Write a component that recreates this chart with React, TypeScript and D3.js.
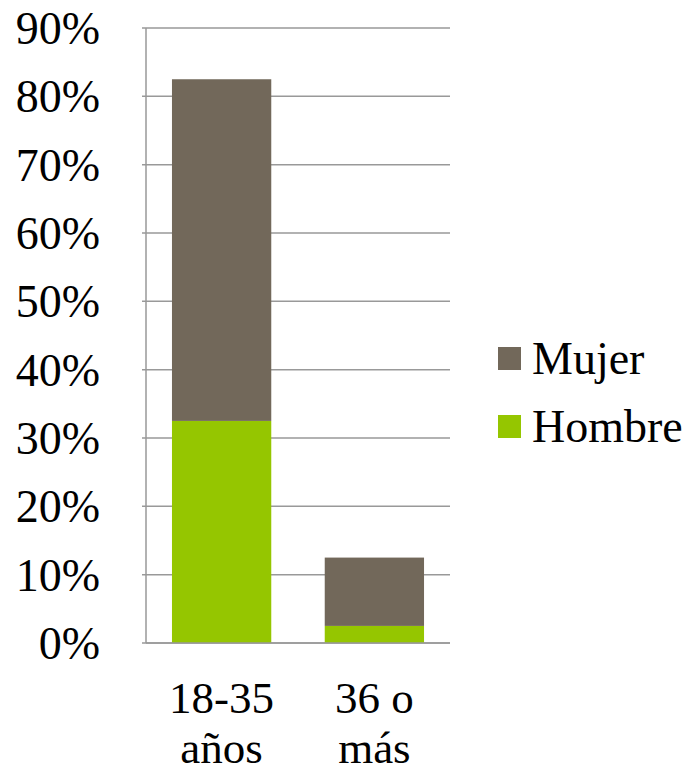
import React, { useEffect, useRef } from 'react';
import * as d3 from 'd3';

const categories = [['18-35', 'años'], ['36 o', 'más']];
const hombre = [32.5, 2.5];
const mujer = [50, 10];
const seriesNames = ['Mujer', 'Hombre'];
const seriesColors = ['#72685a', '#95c600'];
const yTicks = [0, 10, 20, 30, 40, 50, 60, 70, 80, 90];

export default function App() {
    const ref = useRef<SVGSVGElement>(null);

    useEffect(() => {
        const svg = d3.select(ref.current);
        svg.selectAll('*').remove();
        const font = 'Liberation Serif, serif';

        const left = 146, right = 450, top = 28, bottom = 643;

        const yScale = d3.scaleLinear().domain([0, 90]).range([bottom, top]);
        const xScale = d3.scaleBand()
            .domain(categories.map((c, i) => String(i)))
            .range([left, right])
            .paddingInner(0.35)
            .paddingOuter(0.17);

        // grid lines
        svg.append('g')
            .selectAll('line')
            .data(yTicks)
            .enter()
            .append('line')
            .attr('x1', left - 4)
            .attr('x2', right)
            .attr('y1', d => yScale(d))
            .attr('y2', d => yScale(d))
            .attr('stroke', '#999')
            .attr('stroke-width', 1.5);

        // y axis line
        svg.append('line')
            .attr('x1', left).attr('x2', left)
            .attr('y1', top).attr('y2', bottom)
            .attr('stroke', '#999')
            .attr('stroke-width', 1.5);

        const labels = svg.append('g')
            .attr('font-family', font)
            .attr('font-size', 46)
            .attr('fill', '#000');

        // y labels
        labels.selectAll('text.y')
            .data(yTicks)
            .enter()
            .append('text')
            .attr('x', 100)
            .attr('y', d => yScale(d))
            .attr('dy', '0.35em')
            .attr('text-anchor', 'end')
            .text(d => d + '%');

        // stacked bars
        const stacked = categories.map((c, i) => ({ key: String(i), h: hombre[i], m: mujer[i] }));
        const bars = svg.append('g');
        bars.selectAll('rect.h')
            .data(stacked)
            .enter()
            .append('rect')
            .attr('x', d => xScale(d.key)!)
            .attr('width', xScale.bandwidth())
            .attr('y', d => yScale(d.h))
            .attr('height', d => yScale(0) - yScale(d.h))
            .attr('fill', seriesColors[1]);
        bars.selectAll('rect.m')
            .data(stacked)
            .enter()
            .append('rect')
            .attr('x', d => xScale(d.key)!)
            .attr('width', xScale.bandwidth())
            .attr('y', d => yScale(d.h + d.m))
            .attr('height', d => yScale(d.h) - yScale(d.h + d.m))
            .attr('fill', seriesColors[0]);

        // bottom axis line
        svg.append('line')
            .attr('x1', left).attr('x2', right)
            .attr('y1', bottom).attr('y2', bottom)
            .attr('stroke', '#999')
            .attr('stroke-width', 1.5);

        // category labels
        categories.forEach((lines, i) => {
            const cx = xScale(String(i))! + xScale.bandwidth() / 2;
            lines.forEach((t, j) => {
                labels.append('text')
                    .attr('x', cx)
                    .attr('y', 713 + j * 50)
                    .attr('text-anchor', 'middle')
                    .attr('font-size', 45)
                    .text(t);
            });
        });

        // legend
        seriesNames.forEach((name, i) => {
            const y = 358 + i * 68;
            svg.append('rect')
                .attr('x', 498)
                .attr('y', y - 11)
                .attr('width', 23)
                .attr('height', 23)
                .attr('fill', seriesColors[i]);
            labels.append('text')
                .attr('x', 532)
                .attr('y', y)
                .attr('dy', '0.35em')
                .text(name);
        });
    }, []);

    return (
        <svg ref={ref} width={696} height={774}
            style={{ position: 'absolute', left: 0, top: 0, background: '#fff' }} />
    );
}
